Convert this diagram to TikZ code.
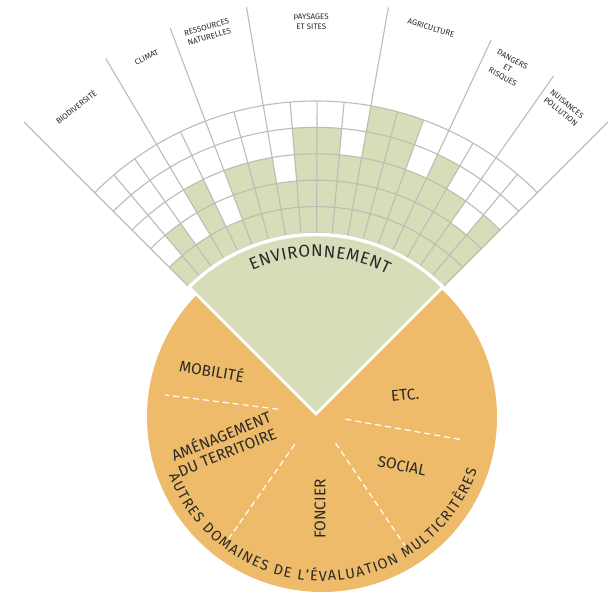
\documentclass[tikz,border=0pt]{standalone}
\usepackage{fontspec}
\setmainfont{Fira Sans}
\usetikzlibrary{decorations.text}
\definecolor{orng}{HTML}{EEBB6A}
\definecolor{sage}{HTML}{D5DDB9}
\definecolor{gridc}{HTML}{BDBDB4}
\definecolor{ink}{HTML}{2A2A2A}
\tikzset{
  gridline/.style={gridc, line width=1.1pt},
  mainline/.style={gridc, line width=1.1pt},
  lbl/.style={text=ink, font=\fontsize{8}{10}\selectfont, align=center, inner sep=0pt},
  dom/.style={text=ink, font=\fontsize{15.5}{17}\selectfont, inner sep=0pt},
  divider/.style={white, line width=1.2pt, dash pattern=on 6pt off 4pt}
}
\def\angs{{135,130.2,125.4,120.6,115.65,110.7,105.2,99.7,94.75,89.8,84.85,79.9,74.9,69.9,64.9,59.9,54.9,49.95,45}}
\begin{document}
\begin{tikzpicture}[x=1pt,y=1pt]
\useasboundingbox (0,0) rectangle (612,596);
\fill[white] (0,0) rectangle (612,596);
% other domains disc
\fill[orng] (322,179) circle[radius=175pt];
\begin{scope}[shift={(316,182)}]
  \coordinate (O) at (0,0);
  % environment wedge
  \fill[sage] (O) -- (135:180pt) arc[start angle=135,end angle=45,radius=180pt] -- cycle;
  % green cells
  \foreach \c/\n in {1/1,2/2,3/1,4/3,5/1,6/3,7/3,8/2,9/4,10/4,11/3,12/5,13/5,14/3,15/4,16/3,17/2,18/3}{
    \pgfmathsetmacro\aa{\angs[\c-1]}
    \pgfmathsetmacro\ab{\angs[\c]}
    \pgfmathsetmacro\ro{181+26.4*\n}
    \fill[sage] (\aa:181pt) arc[start angle=\aa,end angle=\ab,radius=181pt]
      -- (\ab:\ro pt) arc[start angle=\ab,end angle=\aa,radius=\ro pt] -- cycle;
  }
  % grid rings
  \foreach \r in {181,207.4,233.8,260.2,286.6,313}
    \draw[gridline] (45:\r pt) arc[start angle=45,end angle=135,radius=\r pt];
  % grid columns
  \foreach \a in {130.2,125.4,115.65,105.2,94.75,89.8,84.85,74.9,69.9,59.9,49.95}
    \draw[gridline] (\a:181pt) -- (\a:313pt);
  % theme lines
  \foreach \a in {135,120.6,110.7,99.7,79.9,64.9,54.9,45}
    \draw[mainline] (\a:181pt) -- (\a:413pt);
  % white separations
  \draw[white, line width=3.5pt] (45:179.5pt) arc[start angle=45,end angle=135,radius=179.5pt];
  \draw[white, line width=2.5pt, line join=miter] (135:179pt) -- (O) -- (45:179pt);
  % theme labels
  \foreach \a/\r/\t in {128/390/{BIODIVERSITÉ},115.4/395/{CLIMAT},105.8/397/{RESSOURCES\\NATURELLES},90.7/392/{PAYSAGES\\ET SITES},73.4/403/{AGRICULTURE},61/395/{DANGERS\\ET\\RISQUES},51/394/{NUISANCES\\POLLUTION}}
    \node[lbl, rotate=\a-90] at (\a:\r pt) {\t};
  % curved title
  \path[decorate, decoration={text along path, text align=fit to path,
      text={|\fontsize{17}{17}\selectfont\color{ink}|ENVIRONNEMENT}}]
    (114:157pt) arc[start angle=114,end angle=63,radius=157pt];
  % dividers in the disc
  \draw[divider] (172.8:38pt) -- (172.8:152pt);
  \draw[divider] (235:37pt) -- (235:152pt);
  \draw[divider] (304:35pt) -- (304:158pt);
  \draw[divider] (350:30pt) -- (350:146pt);
\end{scope}
% domain labels
\node[dom, rotate=-10] (mob) at (212,226) {MOBILITÉ};
\node[dom, rotate=6] (etc) at (405,201) {ETC.};
\node[dom, rotate=22, align=left] (amen) at (224,153) {AMÉNAGEMENT\\DU TERRITOIRE};
\node[dom, rotate=-12] (soc) at (402,130) {SOCIAL};
\node[dom, rotate=90] (fon) at (320,87) {FONCIER};
\begin{scope}[shift={(322,179)}]
  \path[decorate, decoration={text along path, text align=fit to path,
      text={|\fontsize{14.5}{15}\selectfont\color{ink}|AUTRES DOMAINES DE L'ÉVALUATION MULTICRITÈRES}}]
    (201:164pt) arc[start angle=201,end angle=341,radius=164pt];
\end{scope}
\end{tikzpicture}
\end{document}
